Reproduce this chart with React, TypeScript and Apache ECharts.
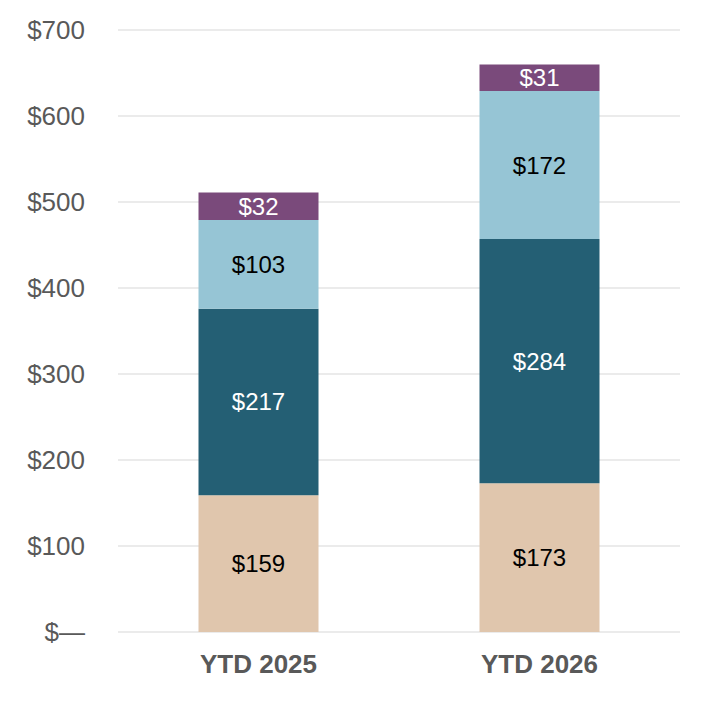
import React, { useEffect, useRef } from "react";
import * as echarts from "echarts";

const categories = ["YTD 2025", "YTD 2026"];
const seriesNames = ["Segment A", "Segment B", "Segment C", "Segment D"];
const segA = [159, 173];
const segB = [217, 284];
const segC = [103, 172];
const segD = [32, 31];
const colors = ["#E0C6AD", "#245F74", "#96C5D5", "#7A4A7B"];
const labelColors = ["#000000", "#FFFFFF", "#000000", "#FFFFFF"];
const yTicks = [0, 100, 200, 300, 400, 500, 600, 700];

export default function App() {
  const ref = useRef<HTMLDivElement>(null);
  useEffect(() => {
    if (!ref.current) return;
    const chart = echarts.init(ref.current, null, { renderer: "svg" });
    const data = [segA, segB, segC, segD];
    chart.setOption({
      animation: false,
      grid: { left: 118, right: 30, top: 30, bottom: 78, containLabel: false },
      xAxis: {
        type: "category",
        data: categories,
        axisLine: { show: false },
        axisTick: { show: false },
        axisLabel: {
          color: "#595959",
          fontSize: 26,
          fontWeight: "bold",
          fontFamily: "Liberation Sans, Arial, sans-serif",
          margin: 19,
        },
      },
      yAxis: {
        type: "value",
        min: yTicks[0],
        max: yTicks[yTicks.length - 1],
        interval: 100,
        axisLine: { show: false },
        axisTick: { show: false },
        splitLine: { lineStyle: { color: "#E4E4E4", width: 1.5 } },
        axisLabel: {
          color: "#595959",
          fontSize: 26,
          fontFamily: "Liberation Sans, Arial, sans-serif",
          margin: 33,
          formatter: (v: number) => (v === 0 ? "$\u2014" : "$" + v),
        },
      },
      series: data.map((d, i) => ({
        name: seriesNames[i],
        type: "bar",
        stack: "total",
        data: d,
        barWidth: 120,
        itemStyle: { color: colors[i] },
        label: {
          show: true,
          position: "inside",
          color: labelColors[i],
          fontSize: 24,
          fontFamily: "Liberation Sans, Arial, sans-serif",
          formatter: (p: any) => "$" + p.value,
        },
      })),
    });
    return () => chart.dispose();
  }, []);
  return (
    <div
      ref={ref}
      style={{ position: "absolute", left: 0, top: 0, width: 710, height: 710 }}
    />
  );
}
